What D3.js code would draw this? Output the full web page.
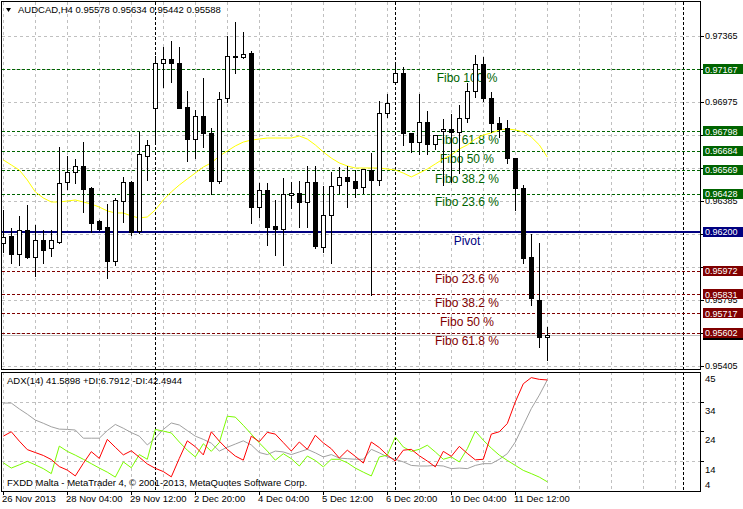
<!DOCTYPE html>
<html>
<head>
<meta charset="utf-8">
<script src="https://cdnjs.cloudflare.com/ajax/libs/d3/7.8.5/d3.min.js"></script>
<style>
	body { margin: 0; background: #fff; }
	svg { display: block; font-family: "Liberation Sans", Arial, sans-serif; }
</style>
</head>
<body>
<div id="graphic"></div>
<script>
// ---- data (H4 bars, index 0 = 26 Nov 2013) ----
const open = [0.96136,0.96177,0.96069,0.96213,0.96054,0.96153,0.96104,0.96143,0.96496,0.96559,
	0.96593,0.96462,0.96266,0.96231,0.96030,0.96387,0.96498,0.96209,0.96654,0.96936,
	0.97203,0.97227,0.97203,0.96942,0.96752,0.96890,0.96791,0.96506,0.96995,0.97242,
	0.97238,0.97266,0.96349,0.96450,0.96237,0.96217,0.96421,0.96431,0.96381,0.96500,
	0.96114,0.96302,0.96480,0.96526,0.96506,0.96466,0.96569,0.96510,0.96910,0.97094,
	0.97147,0.96787,0.96737,0.96856,0.96724,0.96803,0.96811,0.96797,0.96876,0.97040,
	0.97199,0.96995,0.96850,0.96817,0.96642,0.96460,0.96051,0.95797,0.95578];
const high = [0.96332,0.96223,0.96296,0.96361,0.96243,0.96213,0.96213,0.96708,0.96652,0.96633,
	0.96737,0.96468,0.96272,0.96367,0.96401,0.96529,0.96506,0.96793,0.96747,0.97246,
	0.97298,0.97335,0.97301,0.97038,0.96926,0.97117,0.96817,0.97034,0.97365,0.97448,
	0.97389,0.97278,0.96490,0.96490,0.96391,0.96520,0.96500,0.96506,0.96593,0.96593,
	0.96474,0.96559,0.96585,0.96593,0.96569,0.96573,0.96668,0.96981,0.97021,0.97203,
	0.97179,0.96789,0.97021,0.96921,0.96777,0.96870,0.96902,0.96955,0.97084,0.97252,
	0.97240,0.97032,0.96882,0.96866,0.96642,0.96480,0.96189,0.96134,0.95634];
const low = [0.96082,0.96015,0.96005,0.96045,0.95940,0.96015,0.96058,0.96134,0.96455,0.96490,
	0.96322,0.96203,0.96213,0.95926,0.96005,0.96262,0.96183,0.96193,0.96510,0.96728,
	0.97060,0.97094,0.96939,0.96624,0.96639,0.96708,0.96425,0.96490,0.96975,0.97143,
	0.97234,0.96253,0.96292,0.96124,0.96064,0.96005,0.96342,0.96229,0.96229,0.96106,
	0.96082,0.96015,0.96431,0.96348,0.96411,0.96431,0.95827,0.96480,0.96882,0.97092,
	0.96718,0.96678,0.96664,0.96664,0.96692,0.96480,0.96500,0.96550,0.96856,0.97005,
	0.96979,0.96797,0.96767,0.96609,0.96332,0.96015,0.95767,0.95520,0.95442];
const close = [0.96171,0.96069,0.96213,0.96054,0.96153,0.96094,0.96153,0.96490,0.96556,0.96593,
	0.96456,0.96256,0.96219,0.96030,0.96391,0.96500,0.96203,0.96664,0.96718,0.97203,
	0.97227,0.97203,0.96939,0.96752,0.96890,0.96787,0.96506,0.96989,0.97246,0.97245,
	0.97258,0.96351,0.96450,0.96232,0.96217,0.96427,0.96431,0.96381,0.96500,0.96118,
	0.96302,0.96474,0.96526,0.96506,0.96460,0.96573,0.96510,0.96910,0.96965,0.97147,
	0.96787,0.96737,0.96856,0.96724,0.96777,0.96811,0.96797,0.96876,0.97040,0.97199,
	0.96995,0.96850,0.96811,0.96639,0.96460,0.96048,0.95807,0.95578,0.95588];
// yellow moving average
const ma = [0.96629,0.96599,0.96569,0.96510,0.96439,0.96403,0.96379,0.96379,0.96385,0.96391,
	0.96379,0.96367,0.96349,0.96326,0.96314,0.96314,0.96296,0.96284,0.96290,0.96332,
	0.96391,0.96439,0.96480,0.96516,0.96551,0.96587,0.96611,0.96652,0.96682,0.96712,
	0.96735,0.96747,0.96753,0.96759,0.96759,0.96759,0.96759,0.96771,0.96753,0.96718,
	0.96676,0.96640,0.96611,0.96593,0.96581,0.96581,0.96581,0.96581,0.96575,0.96569,
	0.96551,0.96528,0.96551,0.96575,0.96605,0.96635,0.96658,0.96694,0.96718,0.96753,
	0.96777,0.96789,0.96807,0.96813,0.96807,0.96795,0.96765,0.96718,0.96646];
// ADX(14) window
const adx = [33.7,33.7,31.7,29.9,27.9,26.8,25.6,24.8,24.7,24.5,
	21.7,21.7,21.7,24.3,26.4,25.1,23.6,22.4,19.4,21.7,
	24.7,26.9,26.2,24.3,22.4,21.3,20.0,17.3,18.6,19.7,
	20.8,19.4,16.8,16.1,17.3,17.0,16.1,17.0,17.9,16.7,
	15.3,16.1,14.9,14.7,14.5,14.5,17.9,16.7,15.3,14.5,
	13.6,12.4,12.2,12.2,12.4,12.2,11.3,11.5,11.3,12.4,
	13.0,13.0,14.5,16.4,20.4,26.1,31.8,36.4,41.6];
const plusDI = [13.3,11.5,12.6,13.8,12.6,11.3,9.6,19.0,17.2,15.9,
	14.5,13.0,11.5,10.1,8.4,13.6,11.6,16.1,14.5,24.7,
	24.1,23.5,20.4,17.6,15.3,19.8,17.2,20.2,29.2,28.9,
	26.1,23.1,20.1,17.3,14.2,16.4,14.7,12.2,15.6,14.1,
	11.9,14.5,14.5,13.3,11.5,10.1,8.8,15.3,15.9,22.1,
	18.7,17.2,17.9,19.3,17.0,14.5,15.3,13.6,18.1,24.1,
	21.0,18.3,15.9,14.1,12.4,10.7,9.6,8.4,6.8];
const minusDI = [22.4,23.9,20.7,17.8,16.8,15.8,14.4,12.0,10.8,8.8,
	13.1,17.1,14.8,21.3,18.6,16.0,17.4,15.2,12.9,11.4,
	10.3,8.5,14.8,20.8,18.8,16.0,23.9,20.7,17.9,15.6,
	14.2,22.4,20.5,23.7,23.1,20.2,17.3,20.4,17.9,22.7,
	20.1,18.1,14.9,17.6,15.5,13.2,20.4,18.5,15.9,13.9,
	17.6,17.9,15.7,13.9,11.9,17.2,15.5,18.9,16.5,14.3,
	14.5,23.1,23.9,26.7,34.1,40.3,42.4,41.8,41.6];

// levels drawn as objects
const fiboUp = [0.97167, 0.96798, 0.96684, 0.96569, 0.96428];
const fiboUpNames = ["Fibo 100 %", "Fibo 61.8 %", "Fibo 50 %", "Fibo 38.2 %", "Fibo 23.6 %"];
const pivot = 0.96200;
const fiboDown = [0.95972, 0.95831, 0.95717, 0.95602];
const fiboDownNames = ["Fibo 23.6 %", "Fibo 38.2 %", "Fibo 50 %", "Fibo 61.8 %"];
const bid = 0.95588;

// axes
const priceTicks = [0.97365, 0.97169, 0.96973, 0.96777, 0.96581, 0.96385, 0.96189, 0.95993, 0.95797, 0.95601, 0.95405];
const priceTickLabels = ["0.97365", "0.97170", "0.96975", "0.96780", "0.96585", "0.96385", "0.96190", "0.95995", "0.95795", "0.95600", "0.95405"];
const adxTicks = [45, 34, 24, 14, 4];
const timeIdx = [0, 8, 16, 24, 32, 40, 48, 56, 64];
const timeLabels = ["26 Nov 2013", "28 Nov 04:00", "29 Nov 12:00", "2 Dec 20:00", "4 Dec 04:00", "5 Dec 12:00", "6 Dec 20:00", "10 Dec 04:00", "11 Dec 12:00"];
const separators = [19, 49, 85];

const header = "AUDCAD,H4  0.95578 0.95634 0.95442 0.95588";
const adxHeader = "ADX(14) 41.5898 +DI:6.7912 -DI:42.4944";
const copyright = "FXDD Malta - MetaTrader 4, \u00A9 2001-2013, MetaQuotes Software Corp.";

// ---- layout ----
const width = 743, height = 509;
const panel = { left: 2, right: 700, top: 2, bottom: 369 };
const sub = { top: 372, bottom: 491 };

const x = d3.scaleLinear().domain([0, 87]).range([3.3, 699.3]);
const y = d3.scaleLinear().domain([0.95405, 0.97365]).range([366, 36]);
const yA = d3.scaleLinear().domain([4, 45]).range([490, 370]);

const green = "#006400", maroon = "#800000", navy = "#000080";
const px = (v) => Math.round(v) + 0.5;

const svg = d3.select('#graphic').append('svg')
	.attr('width', width).attr('height', height);
svg.append('rect').attr('width', width).attr('height', height).attr('fill', '#fff');

const defs = svg.append('defs');
defs.append('clipPath').attr('id', 'clipMain').append('rect')
	.attr('x', panel.left).attr('y', panel.top)
	.attr('width', panel.right - panel.left).attr('height', panel.bottom - panel.top);
defs.append('clipPath').attr('id', 'clipSub').append('rect')
	.attr('x', panel.left).attr('y', sub.top)
	.attr('width', panel.right - panel.left).attr('height', sub.bottom - sub.top);

const main = svg.append('g').attr('clip-path', 'url(#clipMain)');
const adxG = svg.append('g').attr('clip-path', 'url(#clipSub)');

// grid
const gridIdx = d3.range(0, 88, 4);
[[main, panel.top, panel.bottom], [adxG, sub.top, sub.bottom]].forEach(([g, t, b]) => {
	g.selectAll('.vgrid').data(gridIdx).join('line').attr('class', 'vgrid')
		.attr('x1', d => px(x(d))).attr('x2', d => px(x(d)))
		.attr('y1', t).attr('y2', b)
		.attr('stroke', '#c0c0c0').attr('stroke-dasharray', '3,3');
});
main.selectAll('.hgrid').data(priceTicks).join('line').attr('class', 'hgrid')
	.attr('x1', panel.left).attr('x2', panel.right)
	.attr('y1', d => px(y(d))).attr('y2', d => px(y(d)))
	.attr('stroke', '#c0c0c0').attr('stroke-dasharray', '3,3');
adxG.selectAll('.hgrid').data(adxTicks.slice(1, 4)).join('line').attr('class', 'hgrid')
	.attr('x1', panel.left).attr('x2', panel.right)
	.attr('y1', d => px(yA(d))).attr('y2', d => px(yA(d)))
	.attr('stroke', '#c0c0c0').attr('stroke-dasharray', '3,3');

// period separators
[[main, panel.top, panel.bottom], [adxG, sub.top, sub.bottom]].forEach(([g, t, b]) => {
	g.selectAll('.sep').data(separators).join('line').attr('class', 'sep')
		.attr('x1', d => px(x(d))).attr('x2', d => px(x(d)))
		.attr('y1', t).attr('y2', b)
		.attr('stroke', '#000').attr('stroke-dasharray', '3,2');
});

// fibo / pivot objects
main.selectAll('.fup').data(fiboUp).join('line').attr('class', 'fup')
	.attr('x1', panel.left).attr('x2', panel.right)
	.attr('y1', d => px(y(d))).attr('y2', d => px(y(d)))
	.attr('stroke', green).attr('stroke-dasharray', '3,2');
main.selectAll('.fdn').data(fiboDown).join('line').attr('class', 'fdn')
	.attr('x1', panel.left).attr('x2', panel.right)
	.attr('y1', d => px(y(d))).attr('y2', d => px(y(d)))
	.attr('stroke', maroon).attr('stroke-dasharray', '3,2');
main.append('line')
	.attr('x1', panel.left).attr('x2', panel.right)
	.attr('y1', Math.round(y(pivot))).attr('y2', Math.round(y(pivot)))
	.attr('stroke', navy).attr('stroke-width', 2);

const labelX = 467;
main.selectAll('.fupt').data(fiboUp).join('text').attr('class', 'fupt')
	.attr('x', labelX).attr('y', d => y(d) + 12.5)
	.attr('text-anchor', 'middle').attr('font-size', '12px').attr('fill', green)
	.text((d, i) => fiboUpNames[i]);
main.selectAll('.fdnt').data(fiboDown).join('text').attr('class', 'fdnt')
	.attr('x', labelX).attr('y', d => y(d) + 12.5)
	.attr('text-anchor', 'middle').attr('font-size', '12px').attr('fill', maroon)
	.text((d, i) => fiboDownNames[i]);
main.append('text')
	.attr('x', labelX).attr('y', y(pivot) + 13)
	.attr('text-anchor', 'middle').attr('font-size', '12px').attr('fill', navy)
	.text('Pivot');

// moving average
main.append('path')
	.datum(ma)
	.attr('fill', 'none').attr('stroke', '#ffff00').attr('stroke-width', 1)
	.attr('d', d3.line().x((d, i) => x(i)).y(d => y(d)));

// bid line
main.append('line')
	.attr('x1', panel.left).attr('x2', panel.right)
	.attr('y1', px(y(bid))).attr('y2', px(y(bid)))
	.attr('stroke', '#c0c0c0');

// candles (chart on foreground)
const bars = d3.range(open.length).map(i => ({ i, o: open[i], h: high[i], l: low[i], c: close[i] }));
const cg = main.selectAll('.bar').data(bars).join('g').attr('class', 'bar');
cg.append('line')
	.attr('x1', d => Math.round(x(d.i)) + 0.5).attr('x2', d => Math.round(x(d.i)) + 0.5)
	.attr('y1', d => Math.round(y(d.h))).attr('y2', d => Math.round(y(d.l)) + 1)
	.attr('stroke', '#000');
cg.append('rect')
	.attr('x', d => Math.round(x(d.i)) - 1.5)
	.attr('y', d => Math.round(y(Math.max(d.o, d.c))) + 0.5)
	.attr('width', 4)
	.attr('height', d => Math.max(0, Math.round(y(Math.min(d.o, d.c))) - Math.round(y(Math.max(d.o, d.c)))))
	.attr('fill', d => d.c >= d.o ? '#fff' : '#000')
	.attr('stroke', '#000');

// ADX lines
const lineA = d3.line().x((d, i) => x(i)).y(d => yA(d));
[[adx, '#a0a0a0'], [plusDI, '#7cfc00'], [minusDI, '#ff0000']].forEach(([arr, col]) => {
	adxG.append('path').datum(arr)
		.attr('fill', 'none').attr('stroke', col).attr('stroke-width', 1)
		.attr('d', lineA);
});

// frames
svg.append('rect').attr('x', 1.5).attr('y', 1.5)
	.attr('width', panel.right - 1.5 + 0.5).attr('height', panel.bottom - 1.5 + 0.5)
	.attr('fill', 'none').attr('stroke', '#000');
svg.append('rect').attr('x', 1.5).attr('y', sub.top + 0.5)
	.attr('width', panel.right - 1.5 + 0.5).attr('height', sub.bottom - sub.top)
	.attr('fill', 'none').attr('stroke', '#000');

// price boxes (bid box sits behind the level boxes)
const boxes = [{ v: bid, col: '#000', txt: false }]
	.concat(fiboUp.map(v => ({ v, col: green, txt: true })))
	.concat([{ v: pivot, col: navy, txt: true }])
	.concat(fiboDown.map(v => ({ v, col: maroon, txt: true })));

// right price axis: labels that sit fully under a level box are not drawn
const axisR = svg.append('g');
axisR.selectAll('.pt').data(priceTicks).join('line').attr('class', 'pt')
	.attr('x1', 701).attr('x2', 704)
	.attr('y1', d => px(y(d))).attr('y2', d => px(y(d)))
	.attr('stroke', '#000');
const visibleTicks = priceTicks.map((d, i) => ({ d, t: priceTickLabels[i] }))
	.filter(p => !boxes.some(b => Math.abs(y(b.v) - y(p.d)) < 5));
axisR.selectAll('.pl').data(visibleTicks).join('text').attr('class', 'pl')
	.attr('x', 705).attr('y', p => y(p.d) + 3.3)
	.attr('font-size', '9px').attr('fill', '#000')
	.text(p => p.t);

const bg = axisR.selectAll('.box').data(boxes).join('g').attr('class', 'box');
bg.append('rect')
	.attr('x', 703).attr('y', d => Math.round(y(d.v)) - 5)
	.attr('width', 40).attr('height', 10).attr('fill', d => d.col);
bg.filter(d => d.txt).append('text')
	.attr('x', 705).attr('y', d => y(d.v) + 3.3)
	.attr('font-size', '9px').attr('fill', '#fff')
	.text(d => d.v.toFixed(5));

// ADX axis
axisR.selectAll('.at').data(adxTicks.slice(1, 4)).join('line').attr('class', 'at')
	.attr('x1', 701).attr('x2', 704)
	.attr('y1', d => px(yA(d))).attr('y2', d => px(yA(d)))
	.attr('stroke', '#000');
axisR.selectAll('.al').data(adxTicks).join('text').attr('class', 'al')
	.attr('x', 705).attr('y', d => Math.min(yA(d) + 8.5, 485) + 3.3)
	.attr('font-size', '9.5px').attr('fill', '#000')
	.text(d => d);

// time axis
const axisB = svg.append('g');
axisB.selectAll('.tt').data(timeIdx).join('line').attr('class', 'tt')
	.attr('x1', d => px(x(d))).attr('x2', d => px(x(d)))
	.attr('y1', sub.bottom + 1).attr('y2', sub.bottom + 4)
	.attr('stroke', '#000');
axisB.selectAll('.tl').data(timeIdx).join('text').attr('class', 'tl')
	.attr('x', d => Math.round(x(d)) - 1).attr('y', 502)
	.attr('font-size', '9.5px').attr('fill', '#000')
	.text((d, i) => timeLabels[i]);

// header texts
svg.append('path').attr('d', 'M6,8 L11,8 L8.5,12 Z').attr('fill', '#000');
svg.append('text').attr('x', 18).attr('y', 13.3).attr('font-size', '9.5px').text(header);
svg.append('text').attr('x', 7).attr('y', 383.5).attr('font-size', '9.5px').text(adxHeader);
svg.append('text').attr('x', 7).attr('y', 486).attr('font-size', '9.5px').text(copyright);
</script>
</body>
</html>
